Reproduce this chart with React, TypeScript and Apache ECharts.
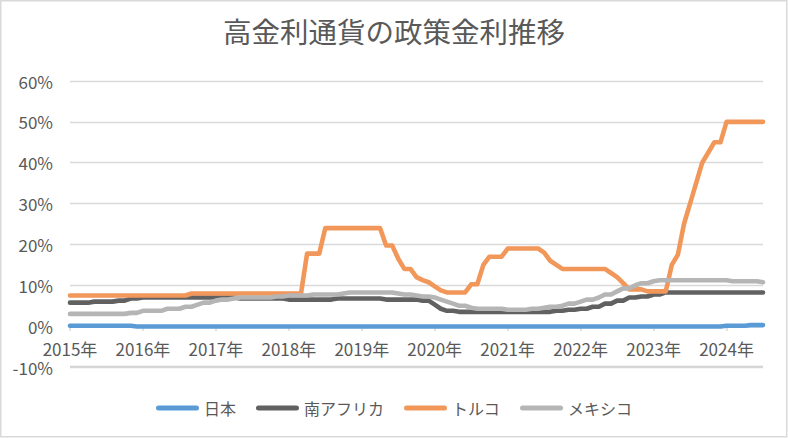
import React, { useEffect, useRef } from "react";
import * as echarts from "echarts";

const chartTitle = "高金利通貨の政策金利推移";
const years = ["2015年", "2016年", "2017年", "2018年", "2019年", "2020年", "2021年", "2022年", "2023年", "2024年"];
const seriesNames = ["日本", "南アフリカ", "トルコ", "メキシコ"];
const seriesColors = ["#5B9BD5", "#616161", "#F1975A", "#B5B5B5"];
const yTicks = { min: -10, max: 60, interval: 10 };

// monthly policy rates (%), one row per axis year
const japan = [
  0.1, 0.1, 0.1, 0.1, 0.1, 0.1, 0.1, 0.1, 0.1, 0.1, 0.1, -0.1,
  -0.1, -0.1, -0.1, -0.1, -0.1, -0.1, -0.1, -0.1, -0.1, -0.1, -0.1, -0.1,
  -0.1, -0.1, -0.1, -0.1, -0.1, -0.1, -0.1, -0.1, -0.1, -0.1, -0.1, -0.1,
  -0.1, -0.1, -0.1, -0.1, -0.1, -0.1, -0.1, -0.1, -0.1, -0.1, -0.1, -0.1,
  -0.1, -0.1, -0.1, -0.1, -0.1, -0.1, -0.1, -0.1, -0.1, -0.1, -0.1, -0.1,
  -0.1, -0.1, -0.1, -0.1, -0.1, -0.1, -0.1, -0.1, -0.1, -0.1, -0.1, -0.1,
  -0.1, -0.1, -0.1, -0.1, -0.1, -0.1, -0.1, -0.1, -0.1, -0.1, -0.1, -0.1,
  -0.1, -0.1, -0.1, -0.1, -0.1, -0.1, -0.1, -0.1, -0.1, -0.1, -0.1, -0.1,
  -0.1, -0.1, -0.1, -0.1, -0.1, -0.1, -0.1, -0.1, -0.1, -0.1, -0.1, -0.1,
  0.1, 0.1, 0.1, 0.1, 0.25, 0.25, 0.25,
];
const southAfrica = [
  5.75, 5.75, 5.75, 5.75, 6, 6, 6, 6, 6.25, 6.25, 6.75, 6.75,
  7, 7, 7, 7, 7, 7, 7, 7, 7, 7, 7, 7,
  7, 7, 7, 7, 6.75, 6.75, 6.75, 6.75, 6.75, 6.75, 6.75, 6.75,
  6.5, 6.5, 6.5, 6.5, 6.5, 6.5, 6.5, 6.5, 6.75, 6.75, 6.75, 6.75,
  6.75, 6.75, 6.75, 6.75, 6.5, 6.5, 6.5, 6.5, 6.5, 6.5, 6.25, 6.25,
  5.25, 4.25, 3.75, 3.75, 3.5, 3.5, 3.5, 3.5, 3.5, 3.5, 3.5, 3.5,
  3.5, 3.5, 3.5, 3.5, 3.5, 3.5, 3.5, 3.5, 3.75, 3.75, 4, 4,
  4.25, 4.25, 4.75, 4.75, 5.5, 5.5, 6.25, 6.25, 7, 7, 7.25, 7.25,
  7.75, 7.75, 8.25, 8.25, 8.25, 8.25, 8.25, 8.25, 8.25, 8.25, 8.25, 8.25,
  8.25, 8.25, 8.25, 8.25, 8.25, 8.25, 8.25,
];
const turkey = [
  7.5, 7.5, 7.5, 7.5, 7.5, 7.5, 7.5, 7.5, 7.5, 7.5, 7.5, 7.5,
  7.5, 7.5, 7.5, 7.5, 7.5, 7.5, 7.5, 7.5, 8, 8, 8, 8,
  8, 8, 8, 8, 8, 8, 8, 8, 8, 8, 8, 8,
  8, 8, 8, 17.75, 17.75, 17.75, 24, 24, 24, 24, 24, 24,
  24, 24, 24, 24, 19.75, 19.75, 16.5, 14, 14, 12, 11.25, 10.75,
  9.75, 8.75, 8.25, 8.25, 8.25, 8.25, 10.25, 10.25, 15, 17, 17, 17,
  19, 19, 19, 19, 19, 19, 18, 16, 15, 14, 14, 14,
  14, 14, 14, 14, 14, 13, 12, 10.5, 9, 9, 9, 8.5,
  8.5, 8.5, 8.5, 15, 17.5, 25, 30, 35, 40, 42.5, 45, 45,
  50, 50, 50, 50, 50, 50, 50,
];
const mexico = [
  3, 3, 3, 3, 3, 3, 3, 3, 3, 3, 3.25, 3.25,
  3.75, 3.75, 3.75, 3.75, 4.25, 4.25, 4.25, 4.75, 4.75, 5.25, 5.75, 5.75,
  6.25, 6.5, 6.5, 6.75, 7, 7, 7, 7, 7, 7, 7.25, 7.25,
  7.5, 7.5, 7.5, 7.5, 7.75, 7.75, 7.75, 7.75, 7.75, 8, 8.25, 8.25,
  8.25, 8.25, 8.25, 8.25, 8.25, 8.25, 8, 7.75, 7.75, 7.5, 7.25, 7.25,
  7, 6.5, 6, 5.5, 5, 5, 4.5, 4.25, 4.25, 4.25, 4.25, 4.25,
  4, 4, 4, 4, 4.25, 4.25, 4.5, 4.75, 4.75, 5, 5.5, 5.5,
  6, 6.5, 6.5, 7, 7.75, 7.75, 8.5, 9.25, 9.25, 10, 10.5, 10.5,
  11, 11.25, 11.25, 11.25, 11.25, 11.25, 11.25, 11.25, 11.25, 11.25, 11.25, 11.25,
  11.25, 11, 11, 11, 11, 11, 10.75,
];

const seriesData = [japan, southAfrica, turkey, mexico];
const months = japan.map((_, i) => years[Math.floor(i / 12)] + (i % 12 + 1) + "月");

const FONT = "'Noto Sans CJK JP', 'Noto Sans', sans-serif";
const TEXT = "#595959";
const GRID = "#D9D9D9";
const LEGEND_ICON = "path://M2.5,0 L40.5,0 A2.5,2.5 0 0 1 40.5,5 L2.5,5 A2.5,2.5 0 0 1 2.5,0 Z";

export default function App() {
  const ref = useRef<HTMLDivElement>(null);
  useEffect(() => {
    if (!ref.current) return;
    const chart = echarts.init(ref.current, null, { renderer: "svg" });
    const isYearStart = (idx: number) => idx % 12 === 0;
    chart.setOption({
      animation: false,
      backgroundColor: "#FFFFFF",
      textStyle: { fontFamily: FONT },
      title: {
        text: chartTitle,
        left: "center",
        top: 11,
        textStyle: { fontSize: 28.5, fontWeight: "normal", color: TEXT, fontFamily: FONT },
      },
      legend: {
        data: seriesNames.map((name) => ({ name, icon: LEGEND_ICON })),
        left: "center",
        top: 395,
        itemWidth: 43,
        itemHeight: 5,
        itemGap: 20,
        textStyle: { fontSize: 16, color: TEXT, fontFamily: FONT },
      },
      grid: { left: 70, right: 25, top: 81, bottom: 71, containLabel: false, outerBoundsMode: "none" },
      xAxis: {
        type: "category",
        data: months,
        boundaryGap: false,
        offset: -41,
        axisLine: { onZero: false, lineStyle: { color: GRID, width: 1.5 } },
        axisTick: { show: true, interval: (idx: number) => isYearStart(idx), length: 5, lineStyle: { color: GRID, width: 1.5 } },
        axisLabel: {
          interval: (idx: number) => isYearStart(idx),
          formatter: (_v: string, idx: number) => (isYearStart(idx) ? years[idx / 12] : ""),
          color: TEXT,
          fontSize: 17,
          margin: 14,
          fontFamily: FONT,
        },
        splitLine: { show: false },
      },
      yAxis: {
        type: "value",
        min: yTicks.min,
        max: yTicks.max,
        interval: yTicks.interval,
        axisLine: { show: false },
        axisTick: { show: false },
        axisLabel: { formatter: "{value}%", color: TEXT, fontSize: 17, margin: 17, fontFamily: FONT },
        splitLine: { show: true, showMinLine: true, showMaxLine: true, lineStyle: { color: GRID, width: 1.3 } },
      },
      series: seriesNames.map((name, k) => ({
        name,
        type: "line",
        data: seriesData[k],
        symbol: "none",
        showSymbol: false,
        color: seriesColors[k],
        itemStyle: { color: seriesColors[k] },
        lineStyle: { width: 4.6, color: seriesColors[k], cap: "round", join: "round" },
      })),
    });

    // bottom gridline at the axis minimum, positioned through the chart's own scales
    const yMinRaw = Number(chart.convertToPixel({ yAxisIndex: 0 }, yTicks.min));
    const xStartRaw = Number(chart.convertToPixel({ xAxisIndex: 0 }, 0));
    const xEndRaw = Number(chart.convertToPixel({ xAxisIndex: 0 }, months.length - 1));
    const yMin = Number.isFinite(yMinRaw) ? Math.round(yMinRaw) - 0.5 : 366.5;
    const xStart = Number.isFinite(xStartRaw) ? xStartRaw : 70;
    const xEnd = Number.isFinite(xEndRaw) ? xEndRaw : 763;
    chart.setOption({
      graphic: [
        {
          type: "rect",
          shape: { x: 0.75, y: 0.75, width: 786, height: 436 },
          style: { fill: "none", stroke: GRID, lineWidth: 1.5 },
          silent: true,
        },
        {
          type: "rect",
          shape: { x: xStart, y: yMin - 0.75, width: xEnd - xStart, height: 1.5 },
          style: { fill: "#D3D3D3" },
          silent: true,
          z: 10,
        },
      ],
    });
    return () => chart.dispose();
  }, []);
  return <div ref={ref} style={{ position: "fixed", left: 0, top: 0, width: 788, height: 438 }} />;
}
